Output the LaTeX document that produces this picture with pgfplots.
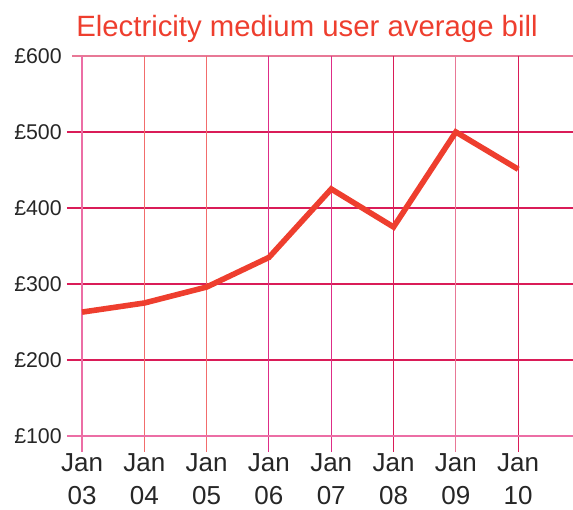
\documentclass[border=0pt]{standalone}
\usepackage{pgfplots}
\pgfplotsset{compat=1.18}
\usepackage{fontspec}
\setmainfont{Liberation Sans}

\definecolor{linered}{RGB}{238,62,46}
\definecolor{gpink}{RGB}{236,110,165}
\definecolor{gcrim}{RGB}{218,28,88}
\definecolor{gsalm}{RGB}{242,108,108}
\definecolor{gmag}{RGB}{222,45,135}
\definecolor{gltpink}{RGB}{232,120,150}

\begin{document}
\begin{tikzpicture}
\begin{axis}[
    name=a,
    scale only axis,
    width=379.5pt, height=285pt,
    xmin=-0.241, xmax=7.88,
    ymin=100, ymax=600,
    axis line style={draw=none},
    xtick={0,...,7},
    xticklabels={{Jan\\03},{Jan\\04},{Jan\\05},{Jan\\06},{Jan\\07},{Jan\\08},{Jan\\09},{Jan\\10}},
    xticklabel style={align=center, anchor=north, inner sep=0pt, yshift=-12.75pt,
        font=\fontsize{19.5}{24.75}\selectfont, text=black!85},
    ytick={100,200,300,400,500,600},
    yticklabels={\pounds100,\pounds200,\pounds300,\pounds400,\pounds500,\pounds600},
    yticklabel style={anchor=east, inner sep=0pt, xshift=-3.75pt,
        font=\fontsize{16}{19}\selectfont, text=black!85},
    major tick length=0pt,
    clip=false,
]
% grid lines
\draw[gcrim, line width=0.8pt] (axis cs:-0.241,200) -- (axis cs:7.88,200);
\draw[gcrim, line width=0.8pt] (axis cs:-0.241,300) -- (axis cs:7.88,300);
\draw[gcrim, line width=0.8pt] (axis cs:-0.241,400) -- (axis cs:7.88,400);
\draw[gcrim, line width=0.8pt] (axis cs:-0.241,500) -- (axis cs:7.88,500);
\draw[gltpink, line width=1.2pt] (axis cs:-0.16,600) -- (axis cs:7.88,600);
\draw[gpink, line width=0.8pt] (axis cs:0,600) -- (axis cs:0,100) -- ++(0pt,-12pt);
\draw[gsalm, line width=0.8pt] (axis cs:1,600) -- (axis cs:1,100) -- ++(0pt,-12pt);
\draw[gsalm, line width=0.8pt] (axis cs:2,600) -- (axis cs:2,100) -- ++(0pt,-12pt);
\draw[gmag, line width=0.8pt] (axis cs:3,600) -- (axis cs:3,100) -- ++(0pt,-12pt);
\draw[gmag, line width=0.8pt] (axis cs:4,600) -- (axis cs:4,100) -- ++(0pt,-12pt);
\draw[gcrim, line width=0.8pt] (axis cs:5,600) -- (axis cs:5,100) -- ++(0pt,-12pt);
\draw[gltpink, line width=0.8pt] (axis cs:6,600) -- (axis cs:6,100) -- ++(0pt,-12pt);
\draw[gcrim, line width=0.8pt] (axis cs:7,600) -- (axis cs:7,100) -- ++(0pt,-12pt);
\draw[gpink, line width=1.4pt] (axis cs:-0.241,100) -- (axis cs:7.88,100);

\addplot[linered, line width=4.2pt] coordinates {
    (0,263) (1,275) (2,296) (3,335) (4,425) (5,375) (6,500) (7,451)
};

\node[anchor=base, text=linered, font=\fontsize{22}{26}\selectfont]
    at ([xshift=-9.75pt, yshift=14.25pt]rel axis cs:0.5,1)
    {Electricity medium user average bill};
\coordinate (bl) at ([xshift=-50.25pt, yshift=-55pt]rel axis cs:0,0);
\coordinate (tr) at ([yshift=42pt]rel axis cs:1,1);
\end{axis}
\pgfresetboundingbox
\path[use as bounding box] (bl) rectangle (tr);
\end{tikzpicture}
\end{document}
